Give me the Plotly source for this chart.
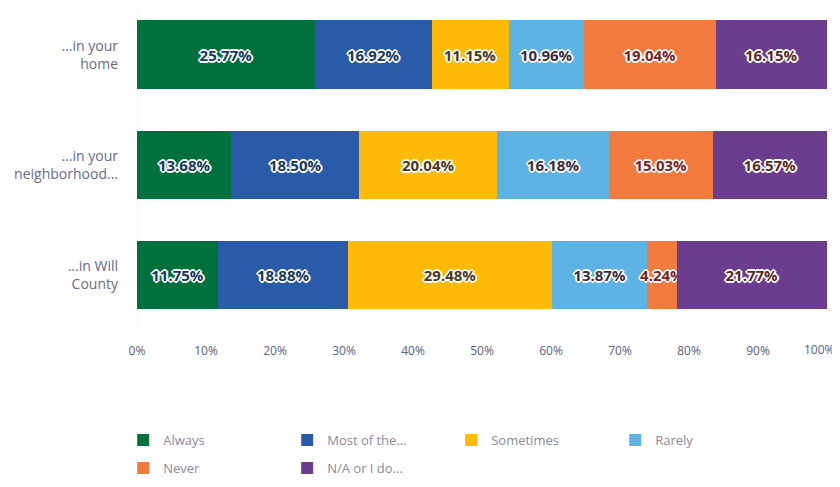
import plotly.graph_objects as go

categories = ["...in your<br>home", "...in your<br>neighborhood...", "...in Will<br>County"]
series_names = ["Always", "Most of the...", "Sometimes", "Rarely", "Never", "N/A or I do..."]
always = [25.77, 13.68, 11.75]
most = [16.92, 18.50, 18.88]
sometimes = [11.15, 20.04, 29.48]
rarely = [10.96, 16.18, 13.87]
never = [19.04, 15.03, 4.24]
na = [16.15, 16.57, 21.77]
tick_vals = [0, 10, 20, 30, 40, 50, 60, 70, 80, 90]
tick_text = ["0%", "10%", "20%", "30%", "40%", "50%", "60%", "70%", "80%", "90%"]
last_tick_val = 100
last_tick_text = "100%"

values = [always, most, sometimes, rarely, never, na]
colors = ["#00703c", "#2a5ba8", "#ffba08", "#5db3e4", "#f37a3d", "#6a3d8f"]
text_colors = ["#143a5c", "#143a5c", "#4a3a1c", "#3a2e3e", "#7a2424", "#5a2a22"]
legend_ids = ["legend", "legend", "legend", "legend", "legend2", "legend2"]

halo = ("1px 1px 0 #fff, -1px -1px 0 #fff, 1px -1px 0 #fff, -1px 1px 0 #fff, "
        "0 2px 0 #fff, 0 -2px 0 #fff, 2px 0 0 #fff, -2px 0 0 #fff")

tick_font = dict(family="Open Sans", size=12, color="#5a6080")

fig = go.Figure()
for name, vals, col, tcol, lg in zip(series_names, values, colors, text_colors, legend_ids):
    fig.add_trace(go.Bar(
        y=categories, x=vals, name=name, orientation="h",
        marker=dict(color=col, line=dict(width=0)),
        text=[f"{v:.2f}%" for v in vals],
        textposition="inside", insidetextanchor="middle", textangle=0,
        textfont=dict(family="Open Sans", size=15, color=tcol, weight="bold", shadow=halo),
        hoverinfo="skip", legend=lg,
    ))

legend_common = dict(
    orientation="h", x=-0.02, xanchor="left", yanchor="top",
    entrywidth=119, entrywidthmode="pixels",
    font=dict(family="Open Sans", size=13, color="#8a8a9a"),
    traceorder="normal", itemsizing="constant", bgcolor="rgba(0,0,0,0)",
)

fig.update_layout(
    barmode="stack",
    bargap=0.373,
    width=832, height=479,
    margin=dict(l=129, r=13, t=0, b=157),
    plot_bgcolor="white", paper_bgcolor="white",
    uniformtext=dict(mode="show", minsize=15),
    showlegend=True,
    legend=dict(y=-0.295, **legend_common),
    legend2=dict(y=-0.382, **legend_common),
    xaxis=dict(
        range=[0, 100], tickvals=tick_vals, ticktext=tick_text,
        showgrid=False, zeroline=False, showline=False,
        tickfont=tick_font,
        ticks="", ticklabelstandoff=12, automargin=False,
    ),
    yaxis=dict(
        range=[2.5, -0.427], showgrid=False, zeroline=False,
        tickfont=dict(family="Open Sans", size=14, color="#6a6a8a"),
        ticks="", ticklabelstandoff=18, automargin=False,
    ),
)
fig.add_annotation(x=last_tick_val, xref="x", y=0, yref="paper", text=last_tick_text,
                   showarrow=False, xanchor="center", yanchor="top", xshift=-8, yshift=-9,
                   font=tick_font)
fig.add_shape(type="line", xref="x", yref="paper", x0=0, x1=0, y0=0, y1=1,
              line=dict(color="#f0f0f2", width=1), layer="below")

fig.write_html("out.html")
